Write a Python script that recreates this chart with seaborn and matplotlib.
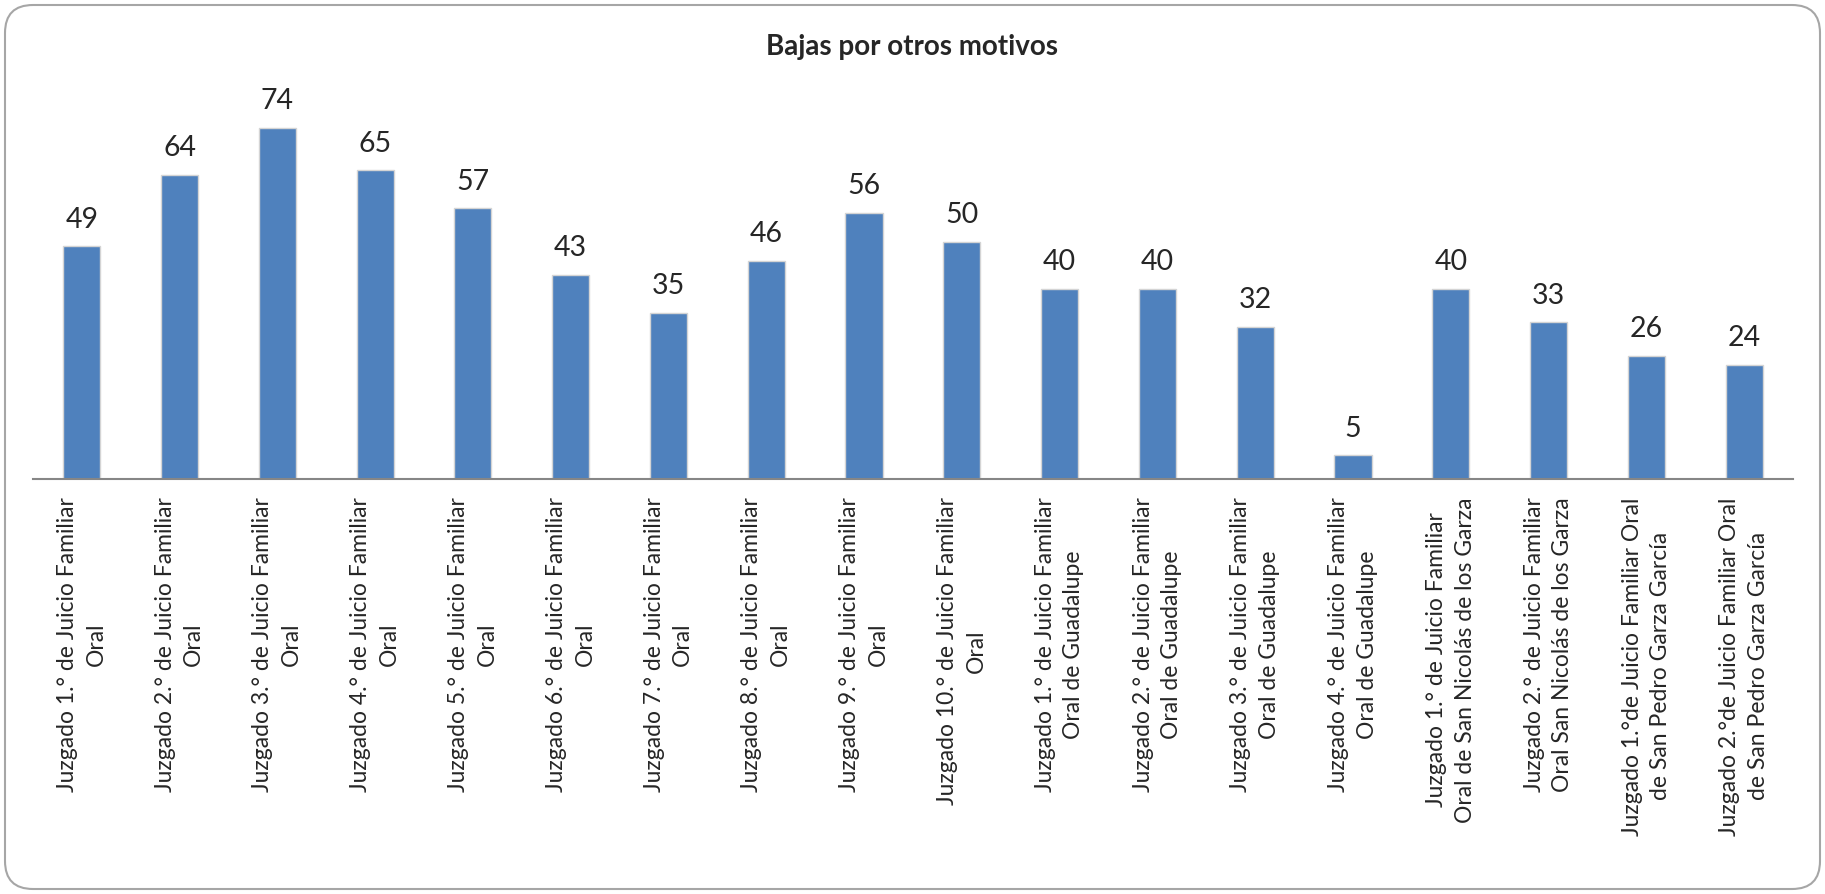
import pandas as pd
import seaborn as sns
import matplotlib.pyplot as plt
from matplotlib.patches import FancyBboxPatch
from matplotlib.transforms import IdentityTransform

# dados do grafico
juzgados = [
    "Juzgado 1.° de Juicio Familiar\nOral",
    "Juzgado 2.° de Juicio Familiar\nOral",
    "Juzgado 3.° de Juicio Familiar\nOral",
    "Juzgado 4.° de Juicio Familiar\nOral",
    "Juzgado 5.° de Juicio Familiar\nOral",
    "Juzgado 6.° de Juicio Familiar\nOral",
    "Juzgado 7.° de Juicio Familiar\nOral",
    "Juzgado 8.° de Juicio Familiar\nOral",
    "Juzgado 9.° de Juicio Familiar\nOral",
    "Juzgado 10.° de Juicio Familiar\nOral",
    "Juzgado 1.° de Juicio Familiar\nOral de Guadalupe",
    "Juzgado 2.° de Juicio Familiar\nOral de Guadalupe",
    "Juzgado 3.° de Juicio Familiar\nOral de Guadalupe",
    "Juzgado 4.° de Juicio Familiar\nOral de Guadalupe",
    "Juzgado 1.° de Juicio Familiar\nOral de San Nicolás de los Garza",
    "Juzgado 2.° de Juicio Familiar\nOral San Nicolás de los Garza",
    "Juzgado 1.°de Juicio Familiar Oral\nde San Pedro Garza García",
    "Juzgado 2.°de Juicio Familiar Oral\nde San Pedro Garza García",
]
bajas = [49, 64, 74, 65, 57, 43, 35, 46, 56, 50, 40, 40, 32, 5, 40, 33, 26, 24]
titulo = "Bajas por otros motivos"

df = pd.DataFrame({"Juzgado": juzgados, "Bajas": bajas})

sns.set_style("white")
plt.rcParams['font.family'] = ['Lato', 'DejaVu Sans']

fig = plt.figure(figsize=(18.25, 8.94), dpi=100)
ax = fig.add_axes([0.018, 0.464, 0.9645, 0.425])

sns.barplot(data=df, x="Juzgado", y="Bajas", color="#4F81BD", saturation=1,
            width=0.38, edgecolor="#d4d4d4", linewidth=1, ax=ax)

# rotulos de valor em cima das barras
for i, v in enumerate(bajas):
    ax.annotate(str(v), (i, v), xytext=(0, 10), textcoords="offset points",
                ha="center", va="bottom", fontsize=20.5)

ax.set_xlim(-0.5, len(bajas) - 0.5)
ax.set_ylim(0, 80)
ax.set_xlabel("")
ax.set_ylabel("")
ax.set_yticks([])
for s in ["top", "right", "left"]:
    ax.spines[s].set_visible(False)
ax.spines["bottom"].set_color("#868686")
ax.spines["bottom"].set_linewidth(1.5)
ax.tick_params(axis="x", length=0, pad=13)
ax.set_xticks(range(len(juzgados)))
ax.set_xticklabels(juzgados, rotation=90, ha="center", va="top",
                   multialignment="center", fontsize=16.5, linespacing=1.45)

fig.text(0.5, 0.947, titulo, ha="center", va="center", fontsize=20, fontweight="bold")

# moldura arredondada
borda = FancyBboxPatch((5, 5), 1815, 884, boxstyle="round,pad=0,rounding_size=28",
                       transform=IdentityTransform(), fill=False,
                       edgecolor="#a6a6a6", linewidth=1.5)
fig.patches.append(borda)

plt.savefig("out.png", dpi=100)
